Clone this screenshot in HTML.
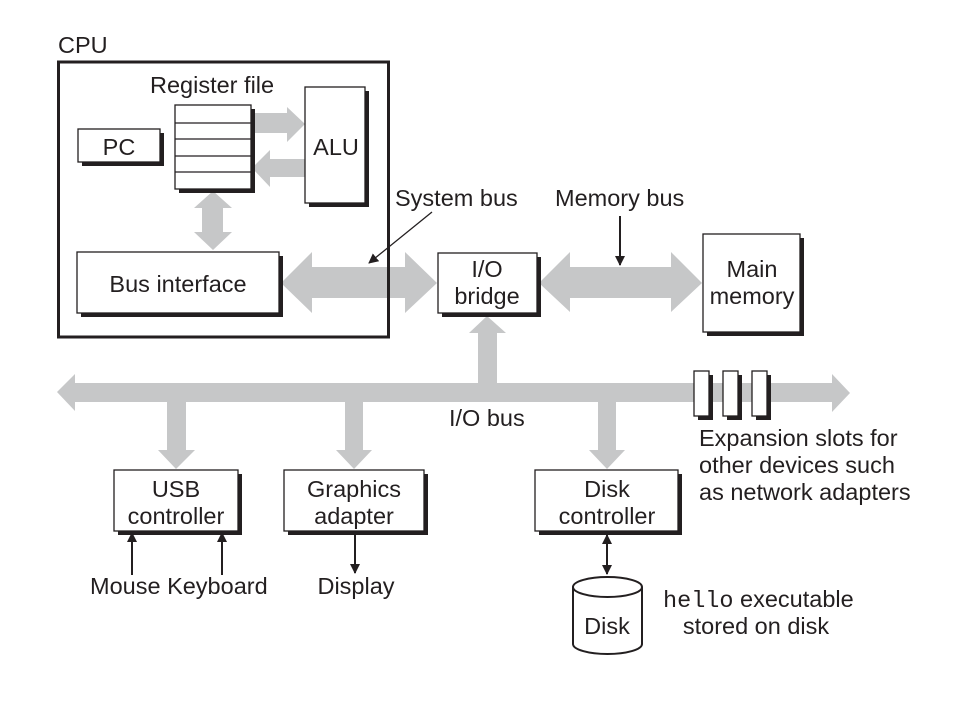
<!DOCTYPE html>
<html><head><meta charset="utf-8"><style>html,body{margin:0;padding:0;background:#fff}svg{display:block}</style></head><body>
<svg width="966" height="702" viewBox="0 0 966 702" xmlns="http://www.w3.org/2000/svg" font-family="Liberation Sans, sans-serif" font-size="23.5" fill="#231f20">
<defs>
<marker id="ah" markerWidth="10" markerHeight="10" refX="9" refY="5" orient="auto" markerUnits="userSpaceOnUse"><path d="M0,0 L10,5 L0,10 z" fill="#231f20"/></marker>
<marker id="ahs" markerWidth="10" markerHeight="10" refX="1" refY="5" orient="auto" markerUnits="userSpaceOnUse"><path d="M10,0 L0,5 L10,10 z" fill="#231f20"/></marker>
</defs>
<g fill="#c6c7c8" stroke="none">
<polygon points="253,113 287,113 287,107 305,124 287,142 287,133 253,133"/>
<polygon points="305,159 270,159 270,150 252,168 270,187 270,177 305,177"/>
<polygon points="213,191 232,208 223,208 223,232 232,232 213,250 194,232 202,232 202,208 194,208"/>
<polygon points="281,283 312,252 312,267 405,267 405,252 437,283 405,313 405,298 312,298 312,313"/>
<polygon points="539,283 570,252 570,267 671,267 671,252 702,283 671,312 671,298 570,298 570,312"/>
<polygon points="487,316 506,333 497,333 497,384 478,384 478,333 469,333"/>
<polygon points="57,392 75,374 75,383 832,383 832,374 850,393 832,412 832,402 75,402 75,411"/>
<polygon points="167,402 186,402 186,450 195,450 176,469 158,450 167,450"/>
<polygon points="345,402 363,402 363,450 372,450 354,469 336,450 345,450"/>
<polygon points="598,402 616,402 616,450 625,450 607,469 589,450 598,450"/>
</g>
<g fill="#231f20">
<rect x="82" y="133" width="82" height="33"/>
<rect x="179" y="109" width="76" height="84"/>
<rect x="309" y="91" width="60" height="116"/>
<rect x="81" y="256" width="202" height="61"/>
<rect x="442" y="257" width="99" height="60"/>
<rect x="707" y="238" width="97" height="98"/>
<rect x="118" y="474" width="124" height="61"/>
<rect x="288" y="474" width="140" height="61"/>
<rect x="539" y="474" width="143" height="61"/>
<rect x="698" y="375" width="15" height="45"/>
<rect x="727" y="375" width="15" height="45"/>
<rect x="756" y="375" width="15" height="45"/>
</g>
<g fill="#fff" stroke="#231f20" stroke-width="1.3">
<rect x="58.5" y="62" width="330" height="275" fill="none" stroke-width="3"/>
<rect x="78" y="129" width="82" height="33"/>
<rect x="175" y="105" width="76" height="84"/>
<line x1="175" y1="123" x2="251" y2="123"/><line x1="175" y1="139" x2="251" y2="139"/><line x1="175" y1="156" x2="251" y2="156"/><line x1="175" y1="172" x2="251" y2="172"/>
<rect x="305" y="87" width="60" height="116"/>
<rect x="77" y="252" width="202" height="61"/>
<rect x="438" y="253" width="99" height="60"/>
<rect x="703" y="234" width="97" height="98"/>
<rect x="114" y="470" width="124" height="61"/>
<rect x="284" y="470" width="140" height="61"/>
<rect x="535" y="470" width="143" height="61"/>
<rect x="694" y="371" width="15" height="45"/>
<rect x="723" y="371" width="15" height="45"/>
<rect x="752" y="371" width="15" height="45"/>
<path d="M573,587 L573,644 A34.5,10 0 0 0 642,644 L642,587" stroke-width="2"/>
<ellipse cx="607.5" cy="587" rx="34.5" ry="10" stroke-width="2"/>
</g>
<g stroke="#231f20" stroke-width="2" fill="none">
<line x1="432" y1="212" x2="369" y2="263" marker-end="url(#ah)" stroke-width="1.3"/>
<line x1="620" y1="216" x2="620" y2="265" marker-end="url(#ah)"/>
<line x1="132" y1="575" x2="132" y2="533" marker-end="url(#ah)"/>
<line x1="222" y1="575" x2="222" y2="533" marker-end="url(#ah)"/>
<line x1="355" y1="532" x2="355" y2="573" marker-end="url(#ah)"/>
<line x1="607" y1="535" x2="607" y2="574" marker-start="url(#ahs)" marker-end="url(#ah)"/>
</g>
<g>
<text x="58" y="53">CPU</text>
<text x="150" y="93">Register file</text>
<text x="119" y="155" text-anchor="middle">PC</text>
<text x="336" y="155" text-anchor="middle">ALU</text>
<text x="178" y="292" text-anchor="middle">Bus interface</text>
<text x="395" y="206">System bus</text>
<text x="555" y="206">Memory bus</text>
<text x="487" y="277" text-anchor="middle">I/O</text>
<text x="487" y="304" text-anchor="middle">bridge</text>
<text x="752" y="277" text-anchor="middle">Main</text>
<text x="752" y="304" text-anchor="middle">memory</text>
<text x="449" y="426">I/O bus</text>
<text x="699" y="446">Expansion slots for</text>
<text x="699" y="473">other devices such</text>
<text x="699" y="500">as network adapters</text>
<text x="176" y="497" text-anchor="middle">USB</text>
<text x="176" y="524" text-anchor="middle">controller</text>
<text x="354" y="497" text-anchor="middle">Graphics</text>
<text x="354" y="524" text-anchor="middle">adapter</text>
<text x="607" y="497" text-anchor="middle">Disk</text>
<text x="607" y="524" text-anchor="middle">controller</text>
<text x="90" y="594">Mouse Keyboard</text>
<text x="356" y="594" text-anchor="middle">Display</text>
<text x="607" y="634" text-anchor="middle">Disk</text>
<text x="663" y="607"><tspan font-family="Liberation Mono, monospace">hello</tspan> executable</text>
<text x="756" y="634" text-anchor="middle">stored on disk</text>
</g>
</svg>
</body></html>
